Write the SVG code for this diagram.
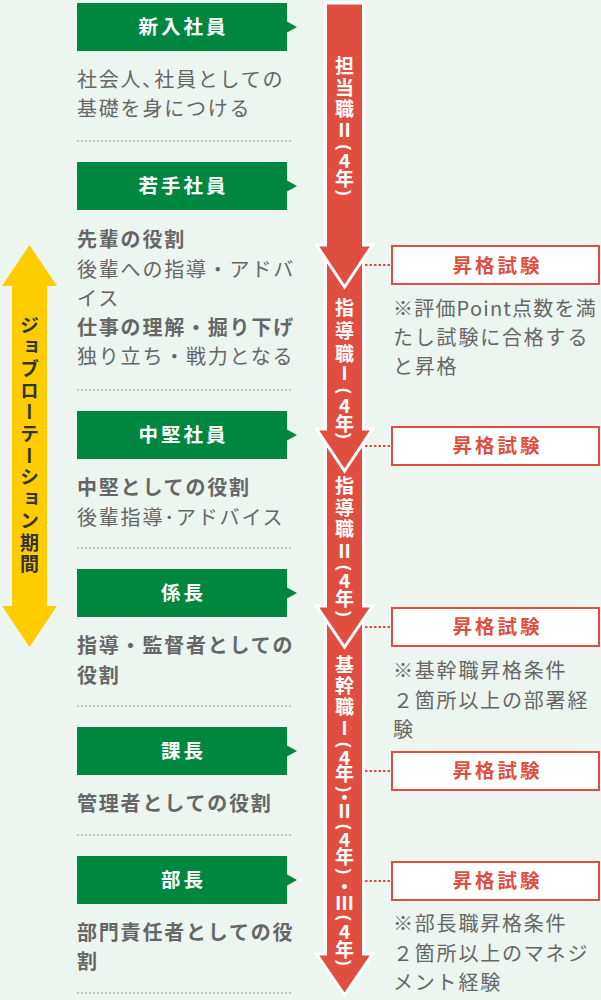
<svg xmlns="http://www.w3.org/2000/svg" width="601" height="1000" viewBox="0 0 601 1000">
<style>
text{font-family:"Noto Sans CJK JP","Noto Sans",sans-serif}
.bg{fill:#ecf5f0}
.gbox{fill:#00873f}
.gt{fill:#fff;font-size:19.5px;font-weight:bold;letter-spacing:3px;text-anchor:middle}
.d{fill:#666;font-size:20px;letter-spacing:1.8px}
.b{font-weight:bold}
.sep{stroke:#c4c4c4;stroke-width:2;stroke-dasharray:2 2}
.rarrow{fill:#e04e3f;stroke:#fff;stroke-width:3;stroke-linejoin:miter}
.at{fill:#fff;font-size:19px;font-weight:bold;text-anchor:middle}
.par{fill:#fff;font-size:18px;font-weight:bold;text-anchor:middle;dominant-baseline:central;font-family:"Noto Sans",sans-serif}
.rbox{fill:#fff;stroke:#e04e3f;stroke-width:2}
.rt{fill:#e04e3f;font-size:19.5px;font-weight:bold;letter-spacing:3px;text-anchor:middle}
.con{stroke:#e04e3f;stroke-width:2;stroke-dasharray:2.5 2;fill:none}
.yt{fill:#333;font-size:19px;font-weight:bold;letter-spacing:2.7px;text-anchor:middle;writing-mode:vertical-rl}
</style>
<rect class="bg" x="0" y="0" width="601" height="1000"/>

<g id="rotation">
<polygon fill="#ffcc00" points="29.5,245 57,286 47,286 47,606 57,606 29.5,647 2,606 12,606 12,286 2,286"/>
<text class="yt" x="29.5" y="446">ジョブローテーション期間</text>
</g>

<g id="shinnyu">
<rect class="gbox" x="77" y="3" width="210" height="48"/>
<polygon class="gbox" points="287,21.5 297,27 287,32.5"/>
<text class="gt" x="183.5" y="33.5">新入社員</text>
<text class="d" x="77" y="87">社会人､社員としての</text>
<text class="d" x="77" y="116">基礎を身につける</text>
</g>
<g id="wakate">
<rect class="gbox" x="77" y="162" width="210" height="48"/>
<polygon class="gbox" points="287,180.5 297,186 287,191.5"/>
<text class="gt" x="183.5" y="192.5">若手社員</text>
<text class="d b" x="77" y="247">先輩の役割</text>
<text class="d" x="77" y="277">後輩への指導・アドバ</text>
<text class="d" x="77" y="306">イス</text>
<text class="d b" x="77" y="335">仕事の理解・掘り下げ</text>
<text class="d" x="77" y="364">独り立ち・戦力となる</text>
</g>
<g id="chuken">
<rect class="gbox" x="77" y="411" width="210" height="48"/>
<polygon class="gbox" points="287,429.5 297,435 287,440.5"/>
<text class="gt" x="183.5" y="441.5">中堅社員</text>
<text class="d b" x="77" y="495">中堅としての役割</text>
<text class="d" x="77" y="525">後輩指導･アドバイス</text>
</g>
<g id="kakaricho">
<rect class="gbox" x="77" y="569" width="210" height="48"/>
<polygon class="gbox" points="287,587.5 297,593 287,598.5"/>
<text class="gt" x="183.5" y="599.5">係長</text>
<text class="d b" x="77" y="653">指導・監督者としての</text>
<text class="d b" x="77" y="683">役割</text>
</g>
<g id="kacho">
<rect class="gbox" x="77" y="727" width="210" height="48"/>
<polygon class="gbox" points="287,745.5 297,751 287,756.5"/>
<text class="gt" x="183.5" y="757.5">課長</text>
<text class="d b" x="77" y="811">管理者としての役割</text>
</g>
<g id="bucho">
<rect class="gbox" x="77" y="856" width="210" height="48"/>
<polygon class="gbox" points="287,874.5 297,880 287,885.5"/>
<text class="gt" x="183.5" y="886.5">部長</text>
<text class="d b" x="77" y="940">部門責任者としての役</text>
<text class="d b" x="77" y="969">割</text>
</g>

<g id="separators">
<line class="sep" x1="77" y1="141" x2="291" y2="141"/>
<line class="sep" x1="77" y1="390" x2="291" y2="390"/>
<line class="sep" x1="77" y1="548" x2="291" y2="548"/>
<line class="sep" x1="77" y1="706" x2="291" y2="706"/>
<line class="sep" x1="77" y1="835" x2="291" y2="835"/>
<line class="sep" x1="77" y1="993" x2="291" y2="993"/>
</g>

<g id="career-arrow">
<polygon class="rarrow" points="325.5,609 363.5,609 363.5,954 372.5,954 344.5,995 316.5,954 325.5,954"/>
<polygon class="rarrow" points="325.5,432 363.5,432 363.5,606 372.5,606 344.5,647 316.5,606 325.5,606"/>
<polygon class="rarrow" points="325.5,248 363.5,248 363.5,429 372.5,429 344.5,471 316.5,429 325.5,429"/>
<polygon class="rarrow" points="325.5,3 363.5,3 363.5,245 372.5,245 344.5,287 316.5,245 325.5,245"/>
</g>

<g id="tantou2">
<text class="at" x="344.5" y="73">担</text>
<text class="at" x="344.5" y="94.5">当</text>
<text class="at" x="344.5" y="115.5">職</text>
<text class="at" x="344.5" y="136.5">Ⅱ</text>
<text class="par" x="344.5" y="147.5" transform="rotate(90 344.5 147.5)">(</text>
<text class="at" x="344.5" y="167.5">4</text>
<text class="at" x="344.5" y="186">年</text>
<text class="par" x="344.5" y="192.5" transform="rotate(90 344.5 192.5)">)</text>
</g>
<g id="shidou1">
<text class="at" x="344.5" y="314.5">指</text>
<text class="at" x="344.5" y="338">導</text>
<text class="at" x="344.5" y="360.5">職</text>
<text class="at" x="344.5" y="379.5">Ⅰ</text>
<text class="par" x="344.5" y="391" transform="rotate(90 344.5 391)">(</text>
<text class="at" x="344.5" y="412.5">4</text>
<text class="at" x="344.5" y="430.5">年</text>
<text class="par" x="344.5" y="435.5" transform="rotate(90 344.5 435.5)">)</text>
</g>
<g id="shidou2">
<text class="at" x="344.5" y="493">指</text>
<text class="at" x="344.5" y="514.5">導</text>
<text class="at" x="344.5" y="536">職</text>
<text class="at" x="344.5" y="557.5">Ⅱ</text>
<text class="par" x="344.5" y="568" transform="rotate(90 344.5 568)">(</text>
<text class="at" x="344.5" y="587.5">4</text>
<text class="at" x="344.5" y="606">年</text>
<text class="par" x="344.5" y="613.5" transform="rotate(90 344.5 613.5)">)</text>
</g>
<g id="kikan">
<text class="at" x="344.5" y="672">基</text>
<text class="at" x="344.5" y="693">幹</text>
<text class="at" x="344.5" y="713.5">職</text>
<text class="at" x="344.5" y="734.5">Ⅰ</text>
<text class="par" x="344.5" y="745" transform="rotate(90 344.5 745)">(</text>
<text class="at" x="344.5" y="764.5">4</text>
<text class="at" x="344.5" y="781">年</text>
<text class="par" x="344.5" y="789" transform="rotate(90 344.5 789)">)</text>
<text class="at" x="344.5" y="805">・</text>
<text class="at" x="344.5" y="817.5">Ⅱ</text>
<text class="par" x="344.5" y="827" transform="rotate(90 344.5 827)">(</text>
<text class="at" x="344.5" y="847">4</text>
<text class="at" x="344.5" y="863.5">年</text>
<text class="par" x="344.5" y="871" transform="rotate(90 344.5 871)">)</text>
<text class="at" x="344.5" y="894">・</text>
<text class="at" x="344.5" y="909.5">Ⅲ</text>
<text class="par" x="344.5" y="918" transform="rotate(90 344.5 918)">(</text>
<text class="at" x="344.5" y="938.5">4</text>
<text class="at" x="344.5" y="957">年</text>
<text class="par" x="344.5" y="962.5" transform="rotate(90 344.5 962.5)">)</text>
</g>

<g id="connectors">
<line class="con" x1="365" y1="265" x2="391" y2="265"/>
<line class="con" x1="365" y1="446" x2="391" y2="446"/>
<line class="con" x1="365" y1="627" x2="391" y2="627"/>
<line class="con" x1="365" y1="771" x2="391" y2="771"/>
<line class="con" x1="365" y1="881" x2="391" y2="881"/>
</g>

<g id="exam1">
<rect class="rbox" x="392" y="246" width="207" height="38"/>
<text class="rt" x="497.5" y="273">昇格試験</text>
<text class="d" x="393" y="316" style="letter-spacing:1.2px">※評価Point点数を満</text>
<text class="d" x="393" y="345">たし試験に合格する</text>
<text class="d" x="393" y="374">と昇格</text>
</g>
<g id="exam2">
<rect class="rbox" x="392" y="427" width="207" height="38"/>
<text class="rt" x="497.5" y="453">昇格試験</text>
</g>
<g id="exam3">
<rect class="rbox" x="392" y="608" width="207" height="38"/>
<text class="rt" x="497.5" y="634">昇格試験</text>
<text class="d" x="393" y="678">※基幹職昇格条件</text>
<text class="d" x="393" y="708">２箇所以上の部署経</text>
<text class="d" x="393" y="737">験</text>
</g>
<g id="exam4">
<rect class="rbox" x="392" y="752" width="207" height="38"/>
<text class="rt" x="497.5" y="778">昇格試験</text>
</g>
<g id="exam5">
<rect class="rbox" x="392" y="862" width="207" height="38"/>
<text class="rt" x="497.5" y="888">昇格試験</text>
<text class="d" x="393" y="931">※部長職昇格条件</text>
<text class="d" x="393" y="961">２箇所以上のマネジ</text>
<text class="d" x="393" y="990">メント経験</text>
</g>
</svg>
